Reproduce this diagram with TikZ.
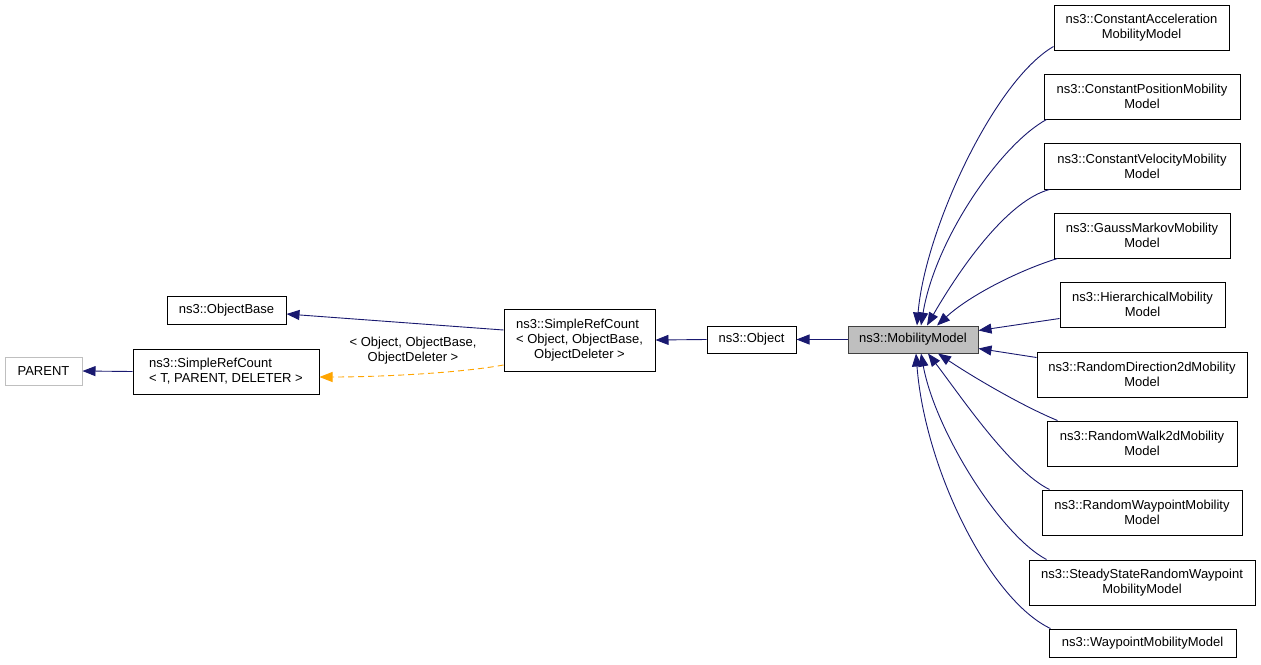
\documentclass[tikz,border=0pt]{standalone}
\usepackage{fontspec}
\setmainfont{Liberation Sans}
\usetikzlibrary{arrows.meta}
\definecolor{edgeblue}{HTML}{191970}
\definecolor{dashorange}{HTML}{FFA500}
\definecolor{boxgray}{HTML}{BFBFBF}
\definecolor{bordergray}{HTML}{404040}
\begin{document}
\begin{tikzpicture}[x=1pt,y=-1pt,
  box/.style={draw=black, line width=1pt, inner sep=0pt, align=center, fill=white,
    font=\fontsize{13}{15}\selectfont},
  edge/.style={draw=edgeblue, line width=0.9pt, -{Triangle[length=13pt,width=10pt]}},
  dashedge/.style={draw=dashorange, line width=0.9pt, dashed, dash pattern=on 6pt off 4pt,
    -{Triangle[length=13pt,width=10pt,fill=dashorange,sep=0pt]}},
  lbl/.style={align=center, inner sep=0pt, font=\fontsize{13}{15}\selectfont}]
\useasboundingbox (0,0) rectangle (1261,664);
\fill[white] (0,0) rectangle (1261,664);
\renewcommand{\arraystretch}{1}
% left part
\node[box, draw=boxgray, minimum width=77pt, minimum height=28pt] (parent) at (43.5,371) {PARENT};
\node[box, minimum width=186pt, minimum height=45pt] (srcT) at (226,371.5)
  {\begin{tabular}{@{}c@{}}\multicolumn{1}{@{}l@{}}{ns3::SimpleRefCount}\\< T, PARENT, DELETER >\end{tabular}};
\node[box, minimum width=119pt, minimum height=28pt] (objbase) at (226.5,310) {ns3::ObjectBase};
\node[box, minimum width=151pt, minimum height=62pt] (srcO) at (579.5,340)
  {\begin{tabular}{@{}c@{}}\multicolumn{1}{@{}l@{}}{ns3::SimpleRefCount}\\< Object, ObjectBase,\\ObjectDeleter >\end{tabular}};
\node[box, minimum width=89pt, minimum height=27pt] (object) at (751.5,339.5) {ns3::Object};
\node[box, draw=bordergray, fill=boxgray, minimum width=130pt, minimum height=27pt] (mm) at (913,339.5) {ns3::MobilityModel};
% right column
\node[box, minimum width=175pt, minimum height=45pt] (r1) at (1141.5,27.5) {ns3::ConstantAcceleration\\MobilityModel};
\node[box, minimum width=196pt, minimum height=45pt] (r2) at (1142,96.5) {ns3::ConstantPositionMobility\\Model};
\node[box, minimum width=196pt, minimum height=46pt] (r3) at (1142,166) {ns3::ConstantVelocityMobility\\Model};
\node[box, minimum width=176pt, minimum height=45pt] (r4) at (1142,235.5) {ns3::GaussMarkovMobility\\Model};
\node[box, minimum width=165pt, minimum height=45pt] (r5) at (1142.5,304.5) {ns3::HierarchicalMobility\\Model};
\node[box, minimum width=210pt, minimum height=45pt] (r6) at (1142,374.5) {ns3::RandomDirection2dMobility\\Model};
\node[box, minimum width=190pt, minimum height=45pt] (r7) at (1142,443.5) {ns3::RandomWalk2dMobility\\Model};
\node[box, minimum width=200pt, minimum height=45pt] (r8) at (1142,512.5) {ns3::RandomWaypointMobility\\Model};
\node[box, minimum width=226pt, minimum height=45pt] (r9) at (1142,582.5) {ns3::SteadyStateRandomWaypoint\\MobilityModel};
\node[box, minimum width=187pt, minimum height=28pt] (r10) at (1142.5,643) {ns3::WaypointMobilityModel};
% edges left
\draw[edge] (srcT.west) -- (parent.east);
\draw[edge] ([yshift=10pt]srcO.west) -- ([yshift=-4pt]objbase.east);
\draw[edge] (object.west) -- (srcO.east);
\draw[edge] (mm.west) -- (object.east);
\draw[dashedge] ([yshift=-25pt]srcO.west) .. controls (460,373) and (380,377) .. ([yshift=-5.5pt]srcT.east);
\node[lbl] (tlabel) at (413,351) {< Object, ObjectBase,\\ObjectDeleter >};
% edges right
\draw[edge] ([yshift=4pt]r1.south west) .. controls (994,81) and (925,230) .. ([xshift=4pt]mm.north);
\draw[edge] ([xshift=3pt]r2.south west) .. controls (1000,145) and (935,240) .. ([xshift=8pt]mm.north);
\draw[edge] ([xshift=6pt]r3.south west) .. controls (1010,200) and (965,260) .. ([xshift=14pt]mm.north);
\draw[edge] ([xshift=4pt]r4.south west) .. controls (1020,270) and (970,295) .. ([xshift=24pt]mm.north);
\draw[edge] ([yshift=9pt]r5.south west) -- ([yshift=9pt]mm.east);
\draw[edge] ([yshift=-6pt]r6.north west) -- ([yshift=-9pt]mm.east);
\draw[edge] ([xshift=11pt]r7.north west) .. controls (1020,405) and (970,375) .. ([xshift=25pt]mm.south);
\draw[edge] ([xshift=8pt]r8.north west) .. controls (1010,470) and (960,395) .. ([xshift=15pt]mm.south);
\draw[edge] ([xshift=18pt]r9.north west) .. controls (1000,535) and (935,430) .. ([xshift=8pt]mm.south);
\draw[edge] ([xshift=2pt]r10.north west) .. controls (990,600) and (925,470) .. ([xshift=3pt]mm.south);
\end{tikzpicture}
\end{document}
